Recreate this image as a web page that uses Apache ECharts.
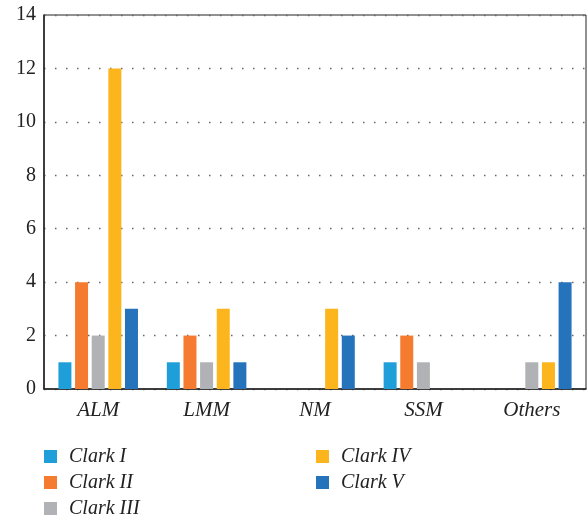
<!DOCTYPE html>
<html>
<head>
<meta charset="utf-8">
<script src="https://cdn.jsdelivr.net/npm/echarts@6/dist/echarts.min.js"></script>
<style>
  html, body { margin: 0; padding: 0; background: #fff; }
  #chart { width: 588px; height: 520px; }
</style>
</head>
<body>
<div id="chart"></div>
<script>
const categories = ['ALM', 'LMM', 'NM', 'SSM', 'Others']
const seriesNames = ['Clark I', 'Clark II', 'Clark III', 'Clark IV', 'Clark V']
const clarkI = [1, 1, 0, 1, 0]
const clarkII = [4, 2, 0, 2, 0]
const clarkIII = [2, 1, 0, 1, 1]
const clarkIV = [12, 3, 3, 0, 1]
const clarkV = [3, 1, 2, 0, 4]
const colors = ['#1f9fd9', '#f47b30', '#b1b2b5', '#fdb51d', '#2473bb']

const values = [clarkI, clarkII, clarkIII, clarkIV, clarkV]
const font = 'Liberation Serif'

const chart = echarts.init(document.getElementById('chart'))

// two legend columns like the original
const legendStyle = {
  orient: 'vertical',
  top: 446,
  height: 80,
  padding: 0,
  itemWidth: 13,
  itemHeight: 13,
  itemGap: 5,
  icon: 'rect',
  textStyle: { fontFamily: font, fontStyle: 'italic', fontSize: 20, lineHeight: 21, color: '#222', padding: [0, 0, 0, 7] }
}

chart.setOption({
  animation: false,
  color: colors,
  legend: [
    Object.assign({ left: 44, data: seriesNames.slice(0, 3) }, legendStyle),
    Object.assign({ left: 316, data: seriesNames.slice(3) }, legendStyle)
  ],
  grid: {
    left: 44, right: 2, top: 15, bottom: 131,
    show: true, borderColor: '#222', borderWidth: 1
  },
  xAxis: {
    type: 'category',
    data: categories,
    axisLine: { lineStyle: { color: '#222', width: 1.5 } },
    axisTick: { show: false },
    axisLabel: { fontFamily: font, fontStyle: 'italic', fontSize: 21, color: '#222', margin: 11 }
  },
  yAxis: {
    type: 'value',
    min: 0, max: 14, interval: 2,
    axisLine: { show: true, lineStyle: { color: '#222', width: 1.5 } },
    axisTick: { show: false },
    axisLabel: { fontFamily: font, fontSize: 20, color: '#222', margin: 8 },
    splitLine: { lineStyle: { color: '#666', type: [1.5, 9.5], width: 1.3 } }
  },
  series: seriesNames.map((name, i) => ({
    name: name,
    type: 'bar',
    data: values[i],
    barWidth: 13,
    barGap: '28%'
  }))
})
</script>
</body>
</html>
